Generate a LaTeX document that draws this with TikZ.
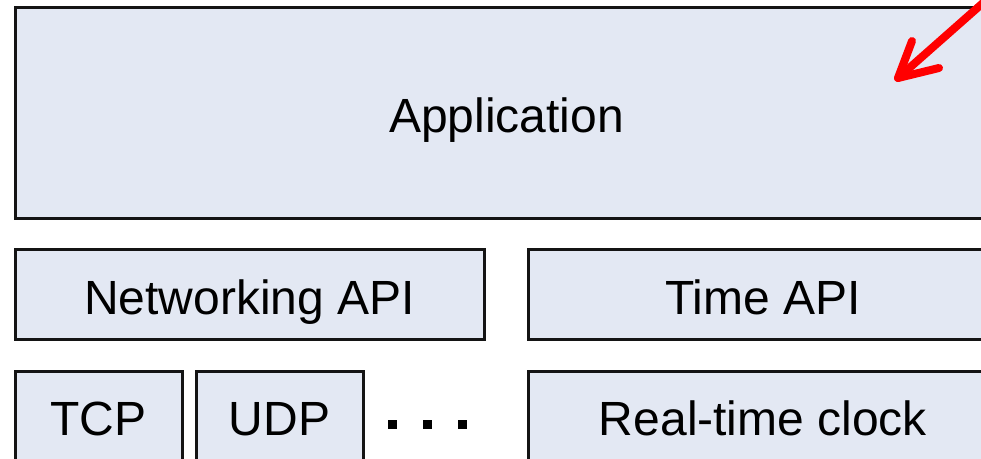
\documentclass[tikz,border=0pt]{standalone}
\usepackage{fontspec}
\setmainfont{Liberation Sans}
\definecolor{layerfill}{RGB}{227,232,243}
\definecolor{layerline}{RGB}{20,20,20}
\tikzset{
  layer/.style={draw=layerline, fill=layerfill, line width=2.25pt,
    inner sep=0pt, outer sep=0pt, text height=29.25pt, text depth=0pt,
    font=\fontsize{36}{40}\selectfont},
  dotmark/.style={fill=black, inner sep=0pt, minimum size=6.75pt},
  pointer/.style={draw=red, line width=6pt, line cap=round, line join=round}
}
\begin{document}
\begin{tikzpicture}[x=0.75pt,y=-0.75pt]
  \useasboundingbox (0,0) rectangle (981,459);
  \clip (0,0) rectangle (981,459);
  % top layer
  \node[layer, minimum width=737.25pt, minimum height=158.25pt] (app) at (506.5,113.5) {Application};
  % API layer
  \node[layer, minimum width=351.75pt, minimum height=67.5pt] (net) at (249.5,295) {Networking API};
  \node[layer, minimum width=352.5pt, minimum height=67.5pt] (time) at (763,295) {Time API};
  % bottom layer
  \node[layer, minimum width=125.25pt, minimum height=67.5pt] (tcp) at (98.5,416) {TCP};
  \node[layer, minimum width=125.25pt, minimum height=67.5pt] (udp) at (279.5,416) {UDP};
  \node[dotmark] (d1) at (392,424) {};
  \node[dotmark] (d2) at (427,424) {};
  \node[dotmark] (d3) at (462,424) {};
  \node[layer, minimum width=352.5pt, minimum height=67.5pt] (rtc) at (763,416) {Real-time clock};
  % red pointer with an open head
  \coordinate (ptail) at (992,-5);
  \coordinate (phead) at (898,78);
  \coordinate (barbA) at (912,41);
  \coordinate (barbB) at (939,68);
  \draw[pointer] (ptail) -- (phead);
  \draw[pointer] (barbA) -- (phead) -- (barbB);
\end{tikzpicture}
\end{document}
